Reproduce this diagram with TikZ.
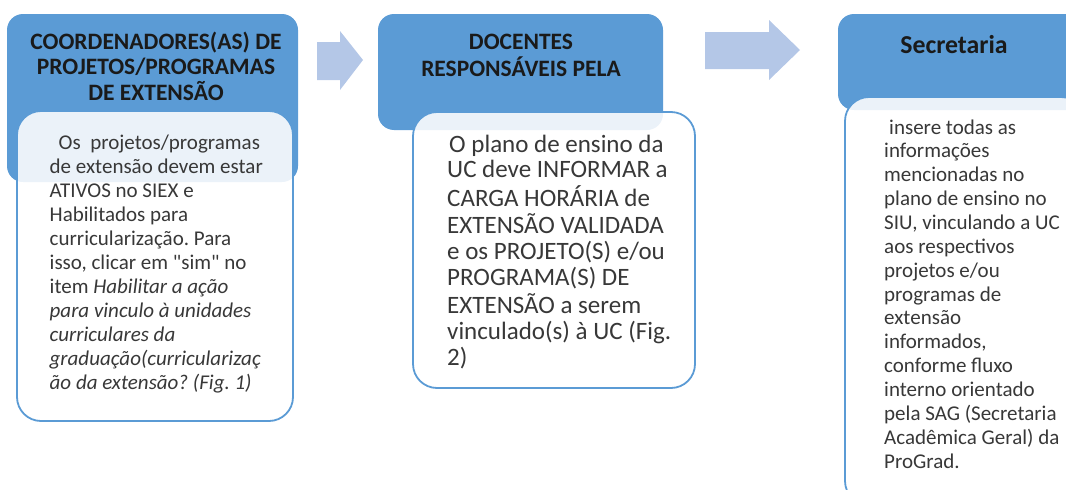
\documentclass[tikz,border=0pt]{standalone}
\usepackage{fontspec}
\setmainfont{Carlito}[Ligatures=TeXOff]
\frenchspacing
\definecolor{hdr}{HTML}{5B9BD5}
\definecolor{arr}{HTML}{B4C7E7}
\definecolor{txt}{HTML}{383838}
\definecolor{htxt}{HTML}{1A1A1A}
\begin{document}
\begin{tikzpicture}[x=1pt,y=-1pt,
  header/.style={fill=hdr, rounded corners=16pt},
  bodybox/.style={draw=hdr, line width=1.8pt, fill=white, fill opacity=0.88, rounded corners=24pt},
  blockarrow/.style={fill=arr},
  htext/.style={anchor=base, inner sep=0pt, text=htxt, font=\bfseries\fontsize{23.5}{24.5}\selectfont},
  btext/.style={anchor=base west, inner sep=0pt, text=txt}
]
\useasboundingbox (0,0) rectangle (1066,490);
\clip (0,0) rectangle (1066,490);

% stage 1
\path[header] (7,14) rectangle (298,182);
\path[bodybox] (17,111) rectangle (293,421);
\node[htext] (h1) at (156,49.5) {\begin{tabular}[t]{@{}c@{}}COORDENADORES(AS) DE\\PROJETOS/PROGRAMAS\\DE EXTENSÃO\end{tabular}};
\node[btext, font=\fontsize{21}{24}\selectfont] (b1) at (49.5,149) {\begin{tabular}[t]{@{}l@{}}
\hspace{9pt}Os\ \ projetos/programas\\
de extensão devem estar\\
ATIVOS no SIEX e\\
Habilitados para\\
curricularização. Para\\
isso, clicar em "sim" no\\
item \textit{Habilitar a ação}\\
\textit{para vinculo à unidades}\\
\textit{curriculares da}\\
\textit{graduação(curricularizaç}\\
\textit{ão da extensão? (Fig. 1)}
\end{tabular}};

% arrow 1
\path[blockarrow] (317,42) -- (340,42) -- (340,31) -- (363,60) -- (340,90) -- (340,80) -- (317,80) -- cycle;

% stage 2
\path[header] (378,14) rectangle (663,130);
\path[bodybox] (413,112) rectangle (695,388);
\node[htext] (h2) at (521,49.3) {\begin{tabular}[t]{@{}c@{}}DOCENTES\\RESPONSÁVEIS PELA\end{tabular}};
\node[btext, font=\fontsize{25}{25.6}\selectfont] (b2) at (447,152) {\begin{tabular}[t]{@{}l@{}}
\hspace{2pt}O plano de ensino da\\
UC deve INFORMAR a\\
CARGA HORÁRIA de\\
EXTENSÃO VALIDADA\\
e os PROJETO(S) e/ou\\
PROGRAMA(S) DE\\
EXTENSÃO a serem\\
vinculado(s) à UC (Fig.\\
2)
\end{tabular}};

% arrow 2
\path[blockarrow] (705,32) -- (769,32) -- (769,20) -- (800,50) -- (769,80) -- (769,69) -- (705,69) -- cycle;

% stage 3
\path[header] (838,14) rectangle (1090,110);
\path[bodybox] (845,97) rectangle (1085,505);
\node[htext, font=\bfseries\fontsize{25.8}{27}\selectfont] (h3) at (954,53.3) {Secretaria};
\node[btext, font=\fontsize{21}{23.86}\selectfont] (b3) at (884,134) {\begin{tabular}[t]{@{}l@{}}
\hspace{5pt}insere todas as\\
informações\\
mencionadas no\\
plano de ensino no\\
SIU, vinculando a UC\\
aos respectivos\\
projetos e/ou\\
programas de\\
extensão\\
informados,\\
conforme fluxo\\
interno orientado\\
pela SAG (Secretaria\\
Acadêmica Geral) da\\
ProGrad.
\end{tabular}};
\end{tikzpicture}
\end{document}
